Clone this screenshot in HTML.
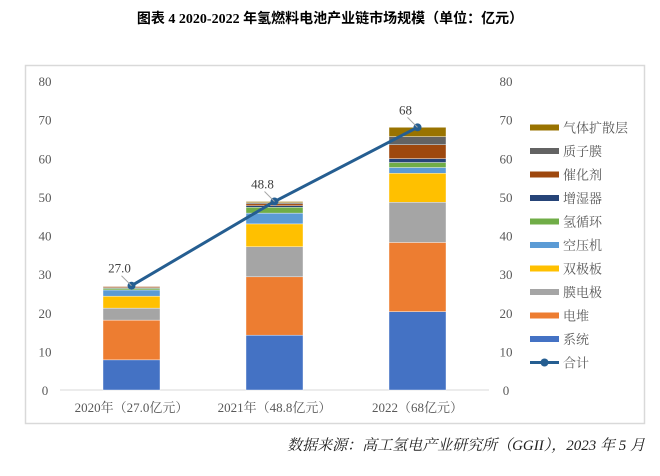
<!DOCTYPE html>
<html><head><meta charset="utf-8"><style>
body{margin:0;background:#fff;}
svg text{font-family:"Liberation Serif","Noto Serif CJK SC",serif;}
</style></head><body>
<svg width="660" height="471" xmlns="http://www.w3.org/2000/svg">
<text x="330" y="23" text-anchor="middle" font-size="14" font-weight="bold" fill="#000" style="font-family:'Liberation Serif','Noto Sans CJK SC',sans-serif">图表 4  2020-2022 年氢燃料电池产业链市场规模（单位：亿元）</text>
<rect x="25.5" y="65.5" width="619" height="358" fill="none" stroke="#d9d9d9" stroke-width="1.5"/>
<g id="axes"></g>
<g id="bars"></g>
<g id="line"></g>
<g id="legend"></g>
<text x="645" y="450" text-anchor="end" font-size="15" font-style="italic" fill="#222">数据来源：高工氢电产业研究所（GGII），2023 年 5 月</text>
</svg>
<script>
const categories = ["2020年（27.0亿元）","2021年（48.8亿元）","2022（68亿元）"];
const seriesNames = ["系统","电堆","膜电极","双极板","空压机","氢循环","增湿器","催化剂","质子膜","气体扩散层"];
const seriesColors = ["#4472c4","#ed7d31","#a5a5a5","#ffc000","#5b9bd5","#70ad47","#264478","#9e480e","#636363","#997300"];
const s_system = [7.8,14.2,20.3];
const s_stack = [10.3,15.1,17.9];
const s_mea = [3.1,7.8,10.4];
const s_bipolar = [3.1,5.9,7.5];
const s_compressor = [1.6,2.8,1.5];
const s_hcirc = [0.4,1.5,1.3];
const s_humid = [0.2,0.4,1.0];
const s_catalyst = [0.3,0.5,3.6];
const s_membrane = [0.1,0.3,2.1];
const s_gdl = [0.1,0.3,2.4];
const totals = [27.0,48.8,68];
const totalLabels = ["27.0","48.8","68"];
const yTicks = [0,10,20,30,40,50,60,70,80];
const series = [s_system,s_stack,s_mea,s_bipolar,s_compressor,s_hcirc,s_humid,s_catalyst,s_membrane,s_gdl];
const NS="http://www.w3.org/2000/svg";
const y0=390, y1=81, x0=60, x1=489;
const ys = v => y0 - v*(y0-y1)/80;
const xs = i => x0 + (x1-x0)/3*(i+0.5);
const bw = 57;
function mk(tag, attrs, parent, text){const e=document.createElementNS(NS,tag);for(const k in attrs)e.setAttribute(k,attrs[k]);if(text!==undefined)e.textContent=text;document.getElementById(parent).appendChild(e);return e;}
yTicks.forEach(t=>{
  let e=mk('text',{x:45,y:ys(t)+5,'text-anchor':'middle','font-size':13,fill:'#595959'},'axes',t);
  
  
  e=mk('text',{x:506,y:ys(t)+5,'text-anchor':'middle','font-size':13,fill:'#595959'},'axes',t);
  
  
});
let ax=mk('line',{x1:x0,x2:x1,y1:y0,y2:y0,stroke:'#d9d9d9','stroke-width':1},'axes');


categories.forEach((c,i)=>{
  const e=mk('text',{x:xs(i),y:412,'text-anchor':'middle','font-size':13,fill:'#595959'},'axes',c);
  
  
  let acc=0;
  series.forEach((s,k)=>{
    const r=mk('rect',{x:xs(i)-bw/2,y:ys(acc+s[i]),width:bw,height:ys(acc)-ys(acc+s[i]),fill:seriesColors[k],stroke:'#fff','stroke-width':0.4},'bars');
    
    
    acc+=s[i];
  });
});
const pts=totals.map((v,i)=>xs(i)+','+ys(v)).join(' ');
let pl=mk('polyline',{points:pts,fill:'none',stroke:'#255e91','stroke-width':3},'line');


totals.forEach((v,i)=>{
  let c=mk('circle',{cx:xs(i),cy:ys(v),r:4,fill:'#255e91'},'line');
  
  
  let l=mk('line',{x1:xs(i),y1:ys(v),x2:xs(i)-10,y2:ys(v)-10,stroke:'#a6a6a6','stroke-width':1},'line');
  
  
  let t=mk('text',{x:xs(i)-12,y:ys(v)-13,'text-anchor':'middle','font-size':13,fill:'#404040'},'line',totalLabels[i]);
  
  
});
const legendOrder=[9,8,7,6,5,4,3,2,1,0];
legendOrder.forEach((k,j)=>{
  const y=127.5+j*23.5;
  let r=mk('rect',{x:530,y:y-3,width:29,height:6,fill:seriesColors[k]},'legend');
  
  
  let t=mk('text',{x:563,y:y+5,'font-size':13,fill:'#595959'},'legend',seriesNames[k]);
  
  
});
const ly=127.5+10*23.5;
let ll=mk('line',{x1:530,x2:559,y1:ly,y2:ly,stroke:'#255e91','stroke-width':3},'legend');


let lc=mk('circle',{cx:544.5,cy:ly,r:4,fill:'#255e91'},'legend');


let lt=mk('text',{x:563,y:ly+5,'font-size':13,fill:'#595959'},'legend','合计');


</script>
</body></html>
